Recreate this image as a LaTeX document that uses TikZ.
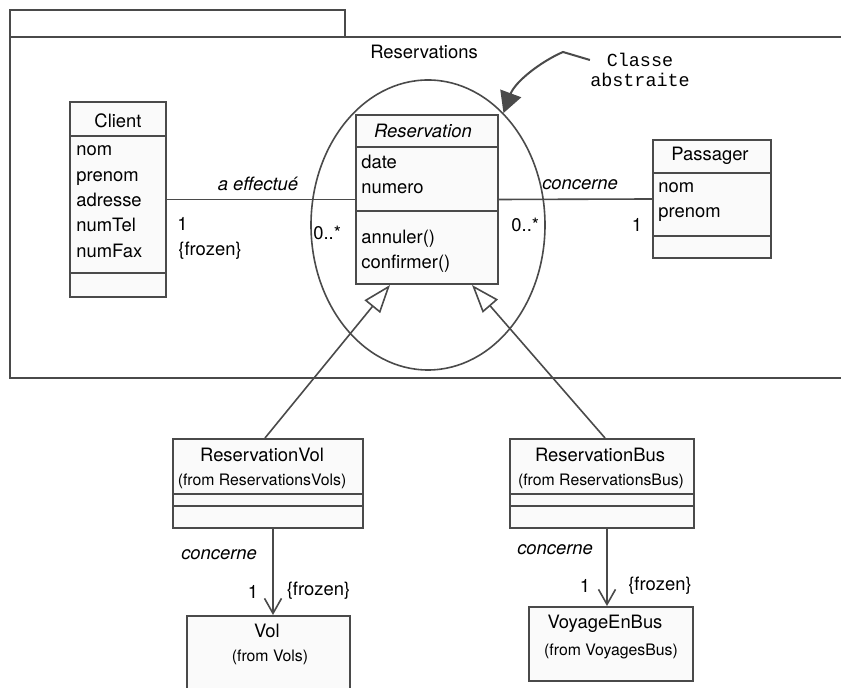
\documentclass[tikz,border=0pt]{standalone}
\usepackage{fontspec}
\setmainfont{TeX Gyre Heros}
\newfontfamily\notefont{Liberation Mono}
\usetikzlibrary{arrows.meta,shapes.geometric,fit}
\definecolor{umlline}{HTML}{4a4a4a}
\definecolor{umlfill}{HTML}{fafafa}
\tikzset{
  classbox/.style={draw=umlline,fill=umlfill,line width=1pt,inner sep=0pt},
  sepline/.style={draw=umlline,line width=1pt},
  assoc/.style={draw=umlline,line width=0.8pt},
  gen/.style={assoc,-{Triangle[open,length=14pt,width=10pt]}},
  navig/.style={assoc,-{Straight Barb[length=7.5pt,width=8.5pt]}},
  attr/.style={anchor=base west,inner sep=0pt,font=\fontsize{9.2}{11}\selectfont},
  classname/.style={anchor=base,inner sep=0pt,font=\fontsize{9.2}{11}\selectfont},
  fromtext/.style={anchor=base,inner sep=0pt,font=\fontsize{7.9}{9}\selectfont},
  role/.style={anchor=base,inner sep=0pt,font=\fontsize{9.2}{11}\selectfont\itshape},
}
\begin{document}
\begin{tikzpicture}[x=0.5pt,y=-0.5pt]
  \useasboundingbox (0,0) rectangle (841,688);
  % package Reservations
  \draw[sepline] (10,37) -- (10,10) -- (345,10) -- (345,37);
  \node[classbox,fill=none,fit={(10,37) (850,378)}] (pkg) {};
  \node[classname] (pkg-name) at (424,58.5) {Reservations};

  % classes
  \node[classbox,fit={(70,102) (166,297)}] (client) {};
  \node[classbox,fit={(356,115) (498,284)}] (resa) {};
  \node[classbox,fit={(653,140) (771,258)}] (passager) {};
  \node[classbox,fit={(173,439) (363,528)}] (resvol) {};
  \node[classbox,fit={(510,439) (694,528)}] (resbus) {};
  \node[classbox,fit={(187,616) (350,695)}] (vol) {};
  \node[classbox,fit={(529,607) (693,681)}] (voyage) {};
  \foreach \xa/\xb/\yy in {70/166/136, 70/166/273, 356/498/147, 356/498/211,
      653/771/173, 653/771/236, 173/363/494, 173/363/506, 510/694/494, 510/694/506}
    \draw[sepline] (\xa,\yy) -- (\xb,\yy);

  % class texts
  \node[classname] (client-name) at (118,128) {Client};
  \foreach \t [count=\i] in {nom,prenom,adresse,numTel,numFax}
    \node[attr] (client-a\i) at (76,{156+25.3*(\i-1)}) {\t};
  \node[classname,font=\fontsize{9.2}{11}\selectfont\itshape] (resa-name) at (423,138) {Reservation};
  \node[attr] (resa-a1) at (361,169) {date};
  \node[attr] (resa-a2) at (361,194) {numero};
  \node[attr] (resa-o1) at (361,244) {annuler()};
  \node[attr] (resa-o2) at (361,269) {confirmer()};
  \node[classname] (passager-name) at (710,161) {Passager};
  \node[attr] (passager-a1) at (658,193) {nom};
  \node[attr] (passager-a2) at (658,218) {prenom};
  \node[classname] (resvol-name) at (262,462) {ReservationVol};
  \node[fromtext] (resvol-from) at (262,486) {(from ReservationsVols)};
  \node[classname] (resbus-name) at (600,462) {ReservationBus};
  \node[fromtext] (resbus-from) at (601,486) {(from ReservationsBus)};
  \node[classname] (vol-name) at (267,638) {Vol};
  \node[fromtext] (vol-from) at (270,662) {(from Vols)};
  \node[classname] (voyage-name) at (605,628.5) {VoyageEnBus};
  \node[fromtext] (voyage-from) at (611,656) {(from VoyagesBus)};

  % abstract class marker
  \node[draw=umlline,line width=0.8pt,ellipse,minimum width=117pt,minimum height=145pt,inner sep=0pt] (abstr) at (428,225) {};
  \node[inner sep=0pt,align=center,font=\fontsize{9.2}{10}\notefont] (note) at (640,70) {Classe\\abstraite};
  \draw[assoc,line width=1pt,-{Triangle[length=10.5pt,width=11pt]}] ([yshift=5pt]note.west) -- (563,52)
    .. controls (540,62) and (515,82) .. (abstr.56);

  % associations
  \draw[assoc] (client.east) -- (resa.west);
  \draw[assoc] (resa.east) -- (passager.west);
  \draw[gen] ([xshift=-1.5pt]resvol.north) -- ([xshift=-18.5pt]resa.south);
  \draw[gen] ([xshift=1.5pt]resbus.north) -- ([xshift=22.5pt]resa.south);
  \draw[navig] ([xshift=2.5pt]resvol.south) -- ([xshift=2.25pt]vol.north);
  \draw[navig] ([xshift=2.5pt]resbus.south) -- ([xshift=-2pt]voyage.north);

  % association labels
  \node[role] (lbl-effectue) at (258,191) {a effectué};
  \node[attr] (lbl-one1) at (177,231) {1};
  \node[attr] (lbl-frozen1) at (178,256) {\{frozen\}};
  \node[attr] (lbl-many1) at (313,239.5) {0..*};
  \node[role] (lbl-concerne1) at (580,190) {concerne};
  \node[attr] (lbl-many2) at (511,232) {0..*};
  \node[classname] (lbl-one2) at (637,232) {1};
  \node[role] (lbl-concerne2) at (219,560) {concerne};
  \node[classname] (lbl-one3) at (253,599) {1};
  \node[classname] (lbl-frozen3) at (318.5,596) {\{frozen\}};
  \node[role] (lbl-concerne3) at (555,555) {concerne};
  \node[classname] (lbl-one4) at (585,593) {1};
  \node[classname] (lbl-frozen4) at (660,591) {\{frozen\}};
\end{tikzpicture}
\end{document}
